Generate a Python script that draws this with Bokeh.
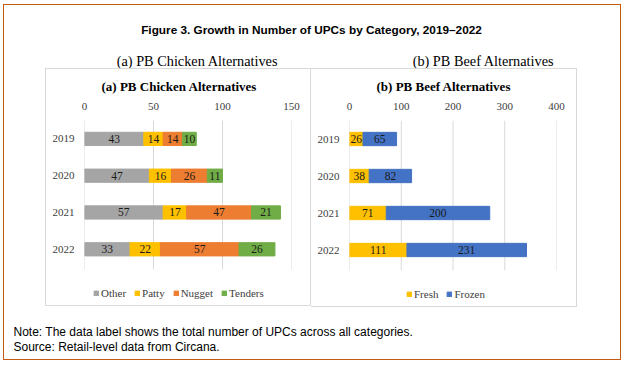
from bokeh.plotting import figure
from bokeh.models import (Range1d, FixedTicker, Legend, LegendItem, Title,
                          ColumnDataSource)
from bokeh.layouts import column, row
from bokeh.embed import file_html
from bokeh.resources import INLINE
from bokeh.core.properties import value

# ---------------- data ----------------
years = ["2019", "2020", "2021", "2022"]

chicken_names = ["Other", "Patty", "Nugget", "Tenders"]
chicken_other = [43, 47, 57, 33]
chicken_patty = [14, 16, 17, 22]
chicken_nugget = [14, 26, 47, 57]
chicken_tenders = [10, 11, 21, 26]
chicken_ticks = [0, 50, 100, 150]

beef_names = ["Fresh", "Frozen"]
beef_fresh = [26, 38, 71, 111]
beef_frozen = [65, 82, 200, 231]
beef_ticks = [0, 100, 200, 300, 400]

fig_title = "Figure 3. Growth in Number of UPCs by Category, 2019\u20132022"
sub_a = "(a) PB Chicken Alternatives"
sub_b = "(b) PB Beef Alternatives"
note_lines = ["Note: The data label shows the total number of UPCs across all categories.",
              "Source: Retail-level data from Circana."]

chicken_colors = ["#a5a5a5", "#ffc000", "#ed7d31", "#70ad47"]
beef_colors = ["#ffc000", "#4472c4"]

SERIF = "Liberation Serif"
SANS = "Liberation Sans"

BAND = 37.0       # px per year row
TOP = 51          # px above frame
FRAME_H = 183     # frame height (bars + legend area)


def make_chart(names, colors, series, ticks, xmax, title, width, height,
               mbl, mbr, title_off, legend_x, styles, margin=None):
    ypos = list(range(len(years)))
    data = {"y": ypos}
    for n, v in zip(names, series):
        data[n] = v
    source = ColumnDataSource(data)
    kw = {}
    if margin is not None:
        kw["margin"] = margin
    y_start = -0.5 + FRAME_H / BAND
    p = figure(width=width, height=height,
               y_range=Range1d(y_start, -0.5),
               x_range=Range1d(0, xmax), x_axis_location="above",
               output_backend="svg", toolbar_location=None,
               min_border_left=mbl, min_border_right=mbr,
               min_border_top=TOP, min_border_bottom=height - TOP - FRAME_H,
               styles=styles, **kw)
    p.title = Title(text=title, align="left", offset=title_off, standoff=12,
                    text_font=SERIF, text_font_style="bold",
                    text_font_size="13px", text_color="#000000")
    p.outline_line_color = None
    p.xgrid.visible = False
    p.ygrid.visible = False
    # vertical gridlines limited to the bar area
    n = len(ticks)
    p.segment(x0=ticks, x1=ticks, y0=[-0.5] * n, y1=[len(years) - 0.45] * n,
              line_color="#d9d9d9", line_width=1)

    renderers = p.hbar_stack(names, y="y", height=0.36, color=colors,
                             source=source)
    lefts = [0] * len(years)
    for v in series:
        centers = [l + x / 2 for l, x in zip(lefts, v)]
        p.text(x=centers, y=ypos, text=[str(x) for x in v],
               text_align="center", text_baseline="middle",
               text_font=value(SERIF), text_font_size="11.5px",
               text_color="#1a1a1a")
        lefts = [l + x for l, x in zip(lefts, v)]

    p.xaxis.ticker = FixedTicker(ticks=ticks)
    p.yaxis.ticker = FixedTicker(ticks=ypos)
    p.yaxis.major_label_overrides = {i: y for i, y in zip(ypos, years)}
    for ax in (p.xaxis, p.yaxis):
        ax.axis_line_color = None
        ax.major_tick_line_color = None
        ax.minor_tick_line_color = None
        ax.major_label_text_font = SERIF
        ax.major_label_text_font_size = "11px"
        ax.major_label_text_color = "#404040"
    p.xaxis.major_label_standoff = 5
    p.yaxis.major_label_standoff = 4

    items = [LegendItem(label=n, renderers=[r]) for n, r in zip(names, renderers)]
    legend = Legend(items=items, orientation="horizontal", location=(legend_x, 3),
                    glyph_width=6, glyph_height=6, label_standoff=2, spacing=8,
                    padding=0, margin=0, border_line_color=None,
                    background_fill_alpha=0, label_height=12,
                    label_text_font=SERIF, label_text_font_size="11px",
                    label_text_color="#404040")
    p.add_layout(legend)
    return p


left = make_chart(chicken_names, chicken_colors,
                  [chicken_other, chicken_patty, chicken_nugget, chicken_tenders],
                  chicken_ticks, 150, sub_a, 266, 238, 38, 21, 17, 9,
                  styles={"border": "1px solid #d9d9d9"},
                  margin=(0, 0, 0, 41))
right = make_chart(beef_names, beef_colors, [beef_fresh, beef_frozen],
                   beef_ticks, 400, sub_b, 266, 239, 38, 21, 27, 57,
                   styles={"border-top": "1px solid #d9d9d9",
                           "border-right": "1px solid #d9d9d9",
                           "border-bottom": "1px solid #d9d9d9"})

# header
HW, HH = 616, 63
header = figure(width=HW, height=HH, x_range=Range1d(0, HW), y_range=Range1d(HH, 0),
                x_axis_type=None, y_axis_type=None, output_backend="svg",
                toolbar_location=None, min_border=0)
header.outline_line_color = None
header.grid.visible = False
header.text(x=[307], y=[24], text=[fig_title], text_align="center",
            text_baseline="middle", text_font=value(SANS), text_font_style="bold",
            text_font_size="11.8px", text_color="#000000")
header.text(x=[193, 479], y=[55, 55], text=[sub_a, sub_b], text_align="center",
            text_baseline="middle", text_font=value(SERIF),
            text_font_size="14.3px", text_color="#000000")

# footer
FW, FH = 616, 52
footer = figure(width=FW, height=FH, x_range=Range1d(0, FW), y_range=Range1d(FH, 0),
                x_axis_type=None, y_axis_type=None, output_backend="svg",
                toolbar_location=None, min_border=0)
footer.outline_line_color = None
footer.grid.visible = False
footer.text(x=[9, 9], y=[24, 39], text=note_lines, text_align="left",
            text_baseline="middle", text_font=value(SANS),
            text_font_size="12px", text_color="#000000")

layout = column(header, row(left, right), footer,
                styles={"border": "1.5px solid #c55a11"},
                margin=(4, 0, 0, 3))

open("out.html", "w").write(file_html(layout, INLINE))
